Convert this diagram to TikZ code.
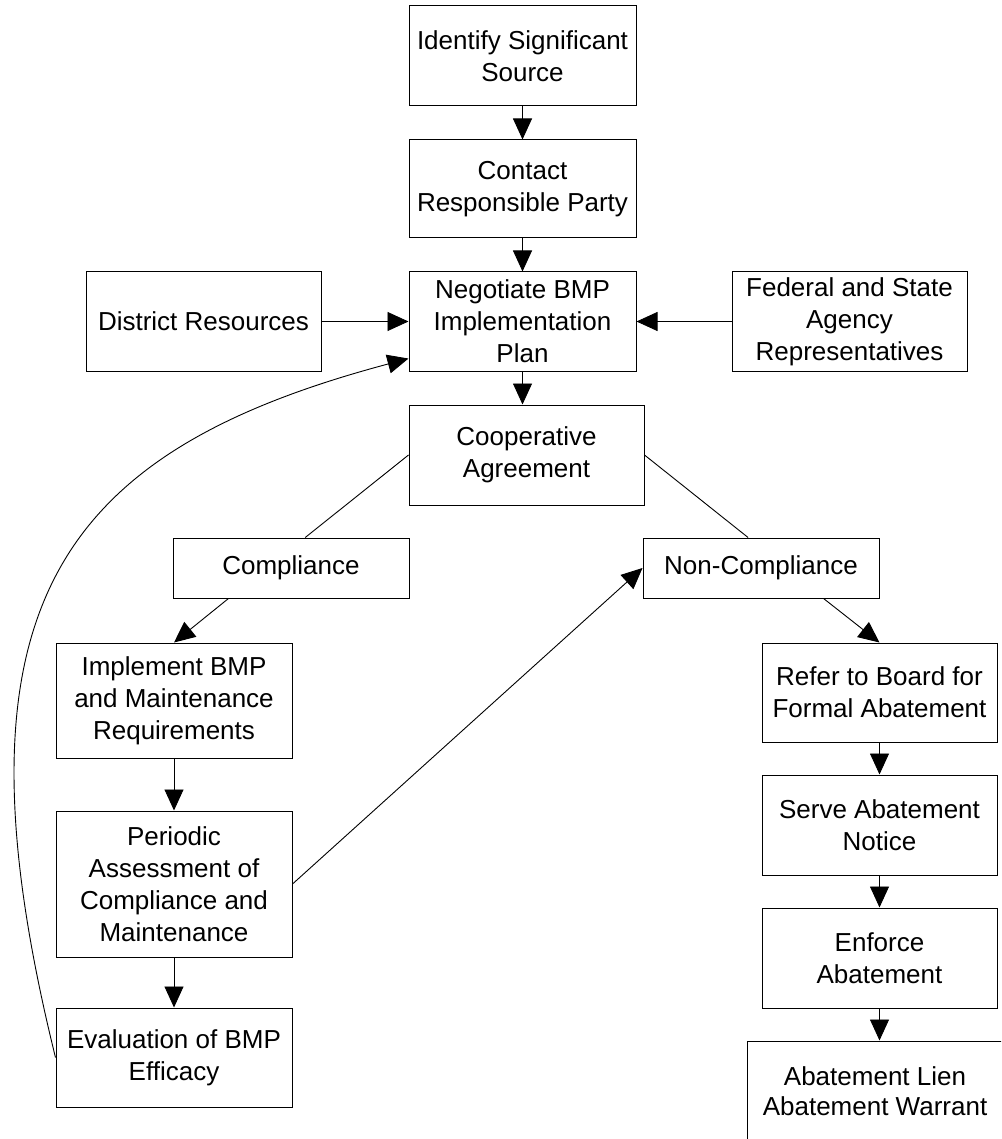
\documentclass[tikz,border=0pt]{standalone}
\usepackage{fontspec}
\setmainfont{Liberation Sans}
\usetikzlibrary{arrows.meta,calc}
\begin{document}
\begin{tikzpicture}[x=1pt,y=-1pt,
  box/.style={draw=black,line width=1pt,inner sep=0pt,align=center,
    font=\fontsize{26}{32}\selectfont},
  conn/.style={line width=0.9pt},
  arr/.style={conn,-{Triangle[length=21pt,width=19pt]}}]
\useasboundingbox (0,0) rectangle (1001,1139);
\clip (0,0) rectangle (1001,1139);
\node[box,minimum width=227pt,minimum height=100pt] (ident) at (522.5,56) {Identify Significant\\Source};
\node[box,minimum width=227pt,minimum height=98pt] (contact) at (522.5,189) {Contact\\Responsible Party};
\node[box,minimum width=227pt,minimum height=99pt] (nego) at (522.5,321.5) {Negotiate BMP\\Implementation\\Plan};
\node[box,minimum width=235pt,minimum height=99pt] (district) at (203.5,321.5) {District Resources};
\node[box,minimum width=235pt,minimum height=99pt] (federal) at (849.5,321.5) {Federal and State\\Agency\\Representatives};
\node[box,minimum width=235pt,minimum height=100pt] (coop) at (526.5,455) {Cooperative\\Agreement};
\node[box,minimum width=236pt,minimum height=60pt] (compl) at (291,568) {Compliance};
\node[box,minimum width=236pt,minimum height=60pt] (noncompl) at (761,568) {Non-Compliance};
\node[box,minimum width=236pt,minimum height=115pt] (impl) at (174,700.5) {Implement BMP\\and Maintenance\\Requirements};
\node[box,minimum width=236pt,minimum height=146pt] (period) at (174,884) {Periodic\\Assessment of\\Compliance and\\Maintenance};
\node[box,minimum width=236pt,minimum height=99pt] (eval) at (174,1057.5) {Evaluation of BMP\\Efficacy};
\node[box,minimum width=235pt,minimum height=99pt] (refer) at (879.5,692.5) {Refer to Board for\\Formal Abatement};
\node[box,minimum width=235pt,minimum height=100pt] (serve) at (879.5,825) {Serve Abatement\\Notice};
\node[box,minimum width=235pt,minimum height=100pt] (enforce) at (879.5,958) {Enforce\\Abatement};
\node[box,minimum width=256pt,minimum height=100pt,font=\fontsize{26}{30}\selectfont] (lien) at (875,1091) {Abatement Lien\\Abatement Warrant};

\draw[arr] (ident) -- (contact);
\draw[arr] (contact) -- (nego);
\draw[arr] (district) -- (nego);
\draw[arr] (federal) -- (nego);
\draw[arr] (nego.south) -- (nego.south |- coop.north);
\draw[conn] (coop.west) -- (compl.65);
\draw[conn] (coop.east) -- (noncompl.113);
\draw[arr] (compl.206) -- (impl.north);
\draw[arr] (impl) -- (period);
\draw[arr] (period) -- (eval);
\draw[arr] (period.east) -- (noncompl.west);
\draw[arr] (eval.west) .. controls (-56,607) and (58,452) .. (nego.198);
\draw[arr] (noncompl.334) -- (refer.north);
\draw[arr] (refer) -- (serve);
\draw[arr] (serve) -- (enforce);
\draw[arr] (enforce.south) -- (enforce.south |- lien.north);
\end{tikzpicture}
\end{document}
